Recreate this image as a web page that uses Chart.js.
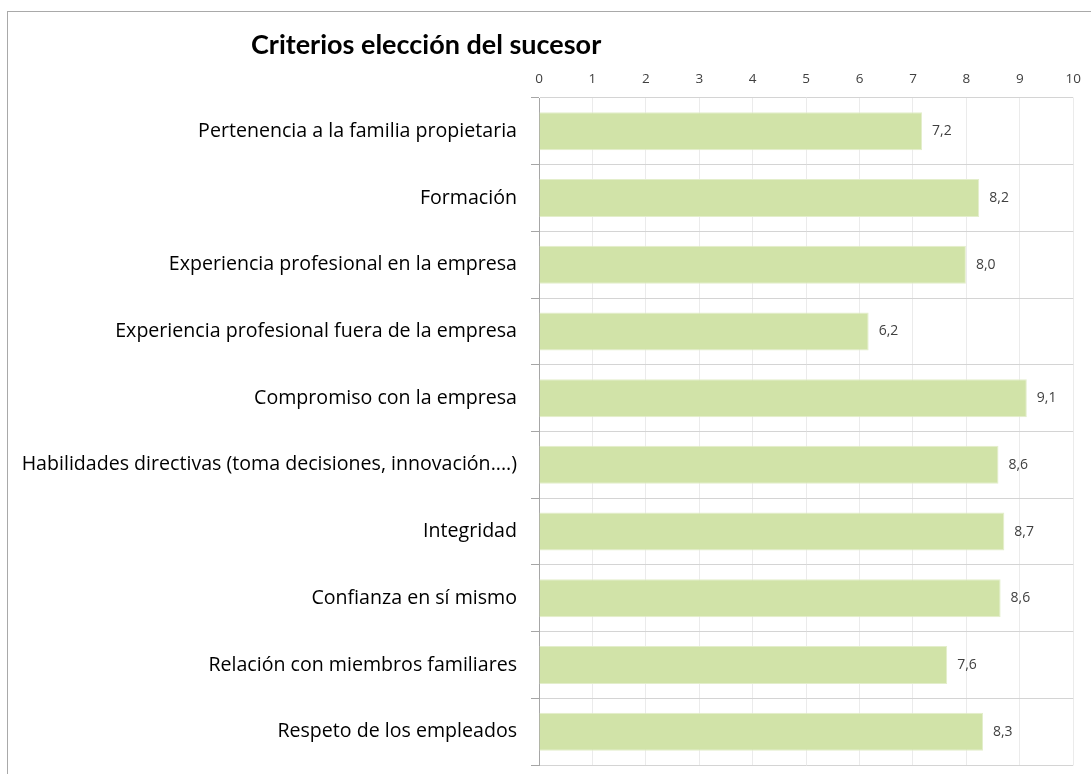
<!DOCTYPE html>
<html>
<head>
<meta charset="utf-8">
<script src="https://cdn.jsdelivr.net/npm/chart.js@4"></script>
<style>
  html, body { margin: 0; padding: 0; background: #fff; overflow: hidden; }
  #frame {
    position: absolute; left: 7px; top: 11px;
    width: 1084px; height: 763px;
    border-left: 1px solid #a9a9a9; border-top: 1px solid #a9a9a9;
  }
  #chart { display: block; }
</style>
</head>
<body>
<div id="frame"><canvas id="chart" width="1084" height="763"></canvas></div>
<script>
const chartTitle = 'Criterios elección del sucesor';
const criteria = [
  'Pertenencia a la familia propietaria',
  'Formación',
  'Experiencia profesional en la empresa',
  'Experiencia profesional fuera de la empresa',
  'Compromiso con la empresa',
  'Habilidades directivas (toma decisiones, innovación....)',
  'Integridad',
  'Confianza en sí mismo',
  'Relación con miembros familiares',
  'Respeto de los empleados'
];
const scores = [7.17, 8.24, 7.99, 6.17, 9.13, 8.60, 8.71, 8.64, 7.64, 8.31];
const axisMin = 0;
const axisMax = 10;

const labelFont = '"Open Sans", sans-serif';
const titleFont = 'Lato, "Open Sans", sans-serif';

// title drawn left-of-centre like the original sheet
const titlePlugin = {
  id: 'sheetTitle',
  afterDraw(chart) {
    const ctx = chart.ctx;
    ctx.save();
    ctx.font = 'bold 27px ' + titleFont;
    ctx.fillStyle = '#000';
    ctx.textBaseline = 'alphabetic';
    ctx.textAlign = 'left';
    ctx.fillText(chartTitle, 243, 42);
    ctx.restore();
  }
};

// value labels at the end of each bar, decimal comma
const valueLabels = {
  id: 'valueLabels',
  afterDatasetsDraw(chart) {
    const ctx = chart.ctx;
    const meta = chart.getDatasetMeta(0);
    ctx.save();
    ctx.font = '14px ' + labelFont;
    ctx.fillStyle = '#404040';
    ctx.textAlign = 'left';
    ctx.textBaseline = 'middle';
    meta.data.forEach((bar, i) => {
      const txt = scores[i].toFixed(1).replace('.', ',');
      ctx.fillText(txt, bar.x + 10, bar.y);
    });
    ctx.restore();
  }
};

new Chart(document.getElementById('chart'), {
  type: 'bar',
  data: {
    labels: criteria,
    datasets: [{
      data: scores,
      backgroundColor: '#d1e3a8',
      borderColor: '#e3eecb',
      borderWidth: 1,
      borderSkipped: 'start',
      barPercentage: 0.57,
      categoryPercentage: 1
    }]
  },
  options: {
    indexAxis: 'y',
    responsive: false,
    animation: false,
    layout: { padding: { top: 0, right: 15, bottom: 10, left: 0 } },
    scales: {
      x: {
        position: 'top',
        min: axisMin,
        max: axisMax,
        afterFit(scale) { scale.height = 86; },
        ticks: {
          stepSize: 1,
          padding: 11,
          color: '#404040',
          font: { family: labelFont, size: 13.5 }
        },
        grid: { color: '#ebebeb', drawTicks: false },
        border: { display: false }
      },
      y: {
        afterFit(scale) {
          scale.width = 531;
          scale.paddingTop = 0;
          scale.paddingBottom = 0;
        },
        ticks: {
          padding: 14,
          color: '#000',
          font: { family: labelFont, size: 19.6 }
        },
        grid: { color: '#d4d4d4', tickColor: '#a6a6a6', tickLength: 8, offset: true },
        border: { color: '#a6a6a6' }
      }
    },
    plugins: {
      legend: { display: false },
      tooltip: { enabled: false }
    }
  },
  plugins: [titlePlugin, valueLabels]
});
</script>
</body>
</html>
